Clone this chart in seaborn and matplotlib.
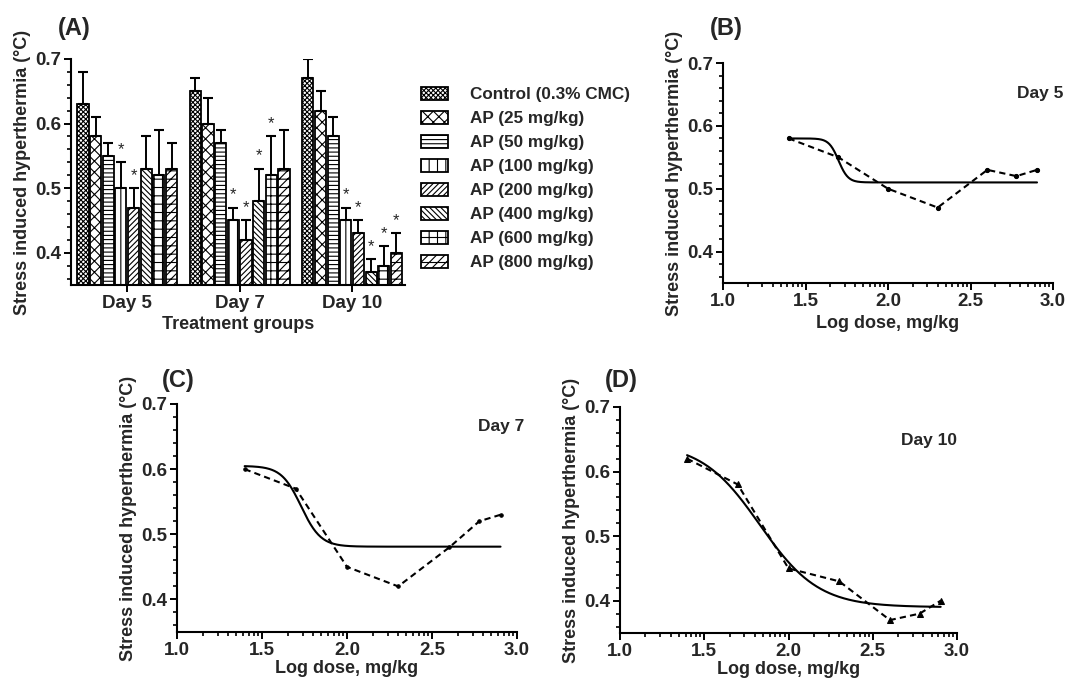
import numpy as np
import pandas as pd
import matplotlib
matplotlib.use("Agg")
import matplotlib.pyplot as plt
import matplotlib.patches as mpatches
from matplotlib.ticker import FixedLocator, MultipleLocator
import seaborn as sns

# ---------------- data ----------------
days = ["Day 5", "Day 7", "Day 10"]
groups = ["Control (0.3% CMC)", "AP (25 mg/kg)", "AP (50 mg/kg)", "AP (100 mg/kg)",
          "AP (200 mg/kg)", "AP (400 mg/kg)", "AP (600 mg/kg)", "AP (800 mg/kg)"]
mean_day5 = [0.63, 0.58, 0.55, 0.50, 0.47, 0.53, 0.52, 0.53]
mean_day7 = [0.65, 0.60, 0.57, 0.45, 0.42, 0.48, 0.52, 0.53]
mean_day10 = [0.67, 0.62, 0.58, 0.45, 0.43, 0.37, 0.38, 0.40]
err_day5 = [0.05, 0.03, 0.02, 0.04, 0.03, 0.05, 0.07, 0.04]
err_day7 = [0.02, 0.04, 0.02, 0.02, 0.03, 0.05, 0.06, 0.06]
err_day10 = [0.03, 0.03, 0.03, 0.02, 0.02, 0.02, 0.03, 0.03]
sig_day5 = [0, 0, 0, 1, 1, 0, 0, 0]
sig_day7 = [0, 0, 0, 1, 1, 1, 1, 0]
sig_day10 = [0, 0, 0, 1, 1, 1, 1, 1]

doses = [25, 50, 100, 200, 400, 600, 800]
resp_day5 = [0.58, 0.55, 0.50, 0.47, 0.53, 0.52, 0.53]
resp_day7 = [0.60, 0.57, 0.45, 0.42, 0.48, 0.52, 0.53]
resp_day10 = [0.62, 0.58, 0.45, 0.43, 0.37, 0.38, 0.40]
# fitted dose-response parameters (top, bottom, logEC50, hill)
fit_day5 = (0.58, 0.51, 1.70, 15.0)
fit_day7 = (0.605, 0.481, 1.73, 7.5)
fit_day10 = (0.645, 0.39, 1.83, 2.5)

hatches = ["xxxxxxx", "xxx", "----", "||", "//////", "\\\\\\\\\\\\", "++", "////--"]

# ---------------- style ----------------
sns.set_theme(style="ticks")
plt.rcParams["font.family"] = ["Liberation Sans", "DejaVu Sans"]
plt.rcParams["font.weight"] = "bold"
plt.rcParams["axes.labelweight"] = "bold"
plt.rcParams["hatch.linewidth"] = 0.8
plt.rcParams["axes.linewidth"] = 1.5
plt.rcParams["xtick.major.width"] = 1.4
plt.rcParams["ytick.major.width"] = 1.4
plt.rcParams["xtick.minor.width"] = 1.2
plt.rcParams["ytick.minor.width"] = 1.2
plt.rcParams["axes.edgecolor"] = "black"

TICK_FS = 13.5
LAB_FS = 13

fig = plt.figure(figsize=(10.68, 6.88), dpi=100)

def fpos(left, top, right, bottom):
    W, H = 1068.0, 688.0
    return [left / W, 1 - bottom / H, (right - left) / W, (bottom - top) / H]

axA = fig.add_axes(fpos(71, 59, 405, 285))
axB = fig.add_axes(fpos(723, 63, 1053, 283))
axC = fig.add_axes(fpos(177, 404, 517, 632))
axD = fig.add_axes(fpos(620, 407, 957, 633))

# ---------------- panel A ----------------
means = [mean_day5, mean_day7, mean_day10]
errs = [err_day5, err_day7, err_day10]
sigs = [sig_day5, sig_day7, sig_day10]
rows = []
for d, m, e, s in zip(days, means, errs, sigs):
    for g, mv, ev, sv in zip(groups, m, e, s):
        rows.append({"day": d, "group": g, "value": mv, "err": ev, "sig": sv})
df = pd.DataFrame(rows)

sns.barplot(data=df, x="day", y="value", hue="group", order=days, hue_order=groups,
            palette=["white"] * len(groups), edgecolor="black", linewidth=1.3,
            width=0.9, gap=0.12, errorbar=None, legend=False, ax=axA)

bar_containers = list(axA.containers)
for gi, cont in enumerate(bar_containers):
    sub = df[df["group"] == groups[gi]].set_index("day").loc[days]
    xs, ys, es = [], [], []
    for bar, (_, r) in zip(cont.patches, sub.iterrows()):
        bar.set_hatch(hatches[gi])
        bar.set_edgecolor("black")
        xc = bar.get_x() + bar.get_width() / 2
        xs.append(xc)
        ys.append(r["value"])
        es.append(r["err"])
        if r["sig"]:
            axA.text(xc, r["value"] + r["err"] + 0.008, "*", ha="center", va="bottom",
                     fontsize=12, fontweight="normal")
    axA.errorbar(xs, ys, yerr=[np.zeros(len(es)), es], fmt="none", ecolor="black",
                 elinewidth=1.4, capsize=3.4, capthick=1.5, zorder=3)

axA.set_xlim(-0.5, 2.47)
axA.set_ylim(0.35, 0.7)
axA.yaxis.set_major_locator(MultipleLocator(0.1))
axA.yaxis.set_minor_locator(MultipleLocator(0.02))
axA.set_xlabel("Treatment groups", fontsize=LAB_FS, fontweight="bold", labelpad=3)
axA.set_ylabel("Stress induced hyperthermia (°C)", fontsize=LAB_FS, fontweight="bold", labelpad=3)

handles = [mpatches.Patch(facecolor="white", edgecolor="black", hatch=h, linewidth=1.3)
           for h in hatches]
fig.legend(handles, groups, loc="upper left", bbox_to_anchor=(414 / 1068, 1 - 80 / 688),
           frameon=False, handlelength=1.6, handleheight=0.8,
           handletextpad=1.3, labelspacing=0.5, borderaxespad=0,
           prop={"family": "Liberation Sans", "weight": "bold", "size": 12.3})

# ---------------- panels B, C, D ----------------
logdose = np.log10(np.array(doses, dtype=float))

def logistic(x, p):
    top, bottom, x0, h = p
    return bottom + (top - bottom) / (1 + 10 ** ((x - x0) * h))

curves = [(axB, resp_day5, fit_day5, "o", 3.0, "Day 5", (1.03, 0.86), 4),
          (axC, resp_day7, fit_day7, "o", 2.5, "Day 7", (1.02, 0.9), 1),
          (axD, resp_day10, fit_day10, "^", 5.0, "Day 10", (1.0, 0.85), 1)]

for ax, resp, fit, mk, ms, lab, tpos, lpad in curves:
    xx = np.linspace(logdose[0], logdose[-1], 300)
    sns.lineplot(x=xx, y=logistic(xx, fit), color="black", linewidth=1.5, ax=ax)
    sns.lineplot(x=logdose, y=resp, color="black", linewidth=1.5, linestyle=(0, (3, 2)),
                 marker=mk, markersize=ms, markeredgecolor="black", ax=ax)
    ax.set_xlim(1.0, 3.0)
    ax.set_ylim(0.35, 0.7)
    ax.xaxis.set_major_locator(MultipleLocator(0.5))
    minors = [b + 0.5 * np.log10(k) for b in (1.0, 1.5, 2.0, 2.5) for k in range(2, 10)]
    ax.xaxis.set_minor_locator(FixedLocator(minors))
    ax.yaxis.set_major_locator(MultipleLocator(0.1))
    ax.yaxis.set_minor_locator(MultipleLocator(0.02))
    ax.set_xlabel("Log dose, mg/kg", fontsize=LAB_FS, fontweight="bold", labelpad=lpad)
    ax.set_ylabel("Stress induced hyperthermia (°C)", fontsize=LAB_FS, fontweight="bold", labelpad=3)
    ax.text(tpos[0], tpos[1], lab, transform=ax.transAxes, ha="right", va="center",
            fontsize=12.5, fontweight="bold")

for ax in (axA, axB, axC, axD):
    sns.despine(ax=ax)
    ax.tick_params(axis="both", which="major", length=5, labelsize=TICK_FS, direction="out",
                   color="black", pad=2)
    ax.tick_params(axis="both", which="minor", length=3, direction="out", color="black")
    for t in ax.get_xticklabels() + ax.get_yticklabels():
        t.set_fontweight("bold")

axA.tick_params(axis="x", which="minor", length=0)

# panel letters
for txt, x, y in [("(A)", 58, 28), ("(B)", 710, 28), ("(C)", 162, 380), ("(D)", 605, 380)]:
    fig.text(x / 1068, 1 - y / 688, txt, fontsize=17, fontweight="bold", ha="left", va="center")

fig.savefig("out.png", dpi=100)
